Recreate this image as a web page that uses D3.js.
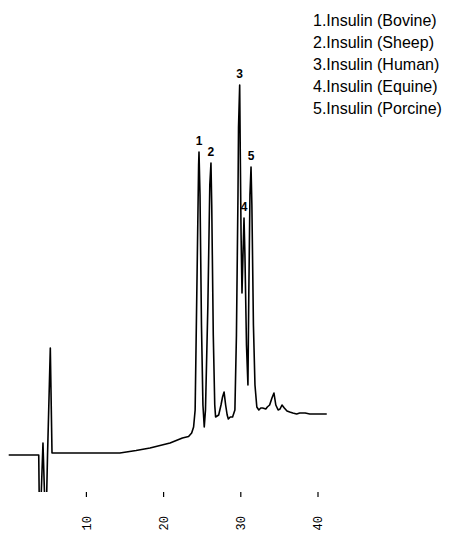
<!DOCTYPE html>
<html>
<head>
<meta charset="utf-8">
<script src="https://cdn.jsdelivr.net/npm/d3@7"></script>
<style>
  html, body { margin: 0; padding: 0; background: #fff; }
  svg { display: block; }
</style>
</head>
<body>
<svg id="chart" width="452" height="533"></svg>
<script>
// Retention time (min)
const times = [
  0, 3.89, 3.98, 4.12, 4.44, 4.72, 4.86, 5.03, 5.39, 5.61,
  14.4, 16.5, 18.3, 20.9, 22.5, 23.3, 23.7, 23.95,
  24.15, 24.4, 24.6, 24.65, 24.78, 24.97, 25.16, 25.33,
  25.49, 25.8, 26.05, 26.2, 26.3, 26.5, 26.69, 26.8,
  27.2, 27.5, 27.7, 27.9, 28.1, 28.3, 28.45, 28.7, 29.0, 29.3,
  29.5, 29.7, 29.77, 29.92, 30.0, 30.1, 30.22, 30.35, 30.48, 30.6,
  30.8, 30.99, 31.1, 31.25, 31.39, 31.5, 31.7, 31.9, 32.14,
  32.4, 32.65, 32.9, 33.3, 33.5, 33.8, 34.1, 34.36, 34.6, 34.9,
  35.15, 35.4, 35.7, 36.05, 36.4, 36.8, 37.3, 37.7, 38.4, 39.0, 40.3, 41.2
];
// Detector signal (arbitrary units)
const signal = [
  0, 0, -60, -60, 12, -60, -60, 0, 107, 2,
  2, 4.5, 7, 12, 17, 18.5, 22, 28,
  45, 180, 290, 303, 260, 130, 50, 28,
  45, 150, 270, 292, 250, 120, 50, 38,
  40, 50, 58, 63, 50, 40, 36, 38, 38, 45,
  120, 260, 328, 370, 300, 220, 162, 200, 237, 200,
  110, 70, 160, 260, 288, 250, 130, 70, 48,
  45, 47, 47, 46, 48, 50, 57, 62, 50, 45,
  46, 50, 47, 44, 43, 42, 41, 42, 42, 41, 41, 41
];
// Peak annotations
const peakLabels = ["1", "2", "3", "4", "5"];
const peakTimes = [24.65, 26.2, 29.92, 30.48, 31.39];
const peakValues = [303, 292, 370, 237, 288];
// Legend
const legendItems = [
  "1.Insulin (Bovine)",
  "2.Insulin (Sheep)",
  "3.Insulin (Human)",
  "4.Insulin (Equine)",
  "5.Insulin (Porcine)"
];
const tickValues = [10, 20, 30, 40];

const svg = d3.select("#chart");

const x = d3.scaleLinear().domain([0, 41.5]).range([8.7, 8.7 + 41.5 * 7.72]);
const y = d3.scaleLinear().domain([-37, 370]).range([492, 85]);

svg.append("defs").append("clipPath").attr("id", "plotclip")
  .append("rect").attr("x", 0).attr("y", 0).attr("width", 452).attr("height", y(-37));

const data = times.map((t, i) => ({ t, v: signal[i] }));
const line = d3.line().x(d => x(d.t)).y(d => y(d.v));

svg.append("path")
  .datum(data)
  .attr("clip-path", "url(#plotclip)")
  .attr("d", line)
  .attr("fill", "none")
  .attr("stroke", "#000")
  .attr("stroke-width", 1.6)
  .attr("stroke-linejoin", "round");

// Peak labels
svg.append("g").selectAll("text")
  .data(peakLabels)
  .join("text")
  .attr("x", (d, i) => x(peakTimes[i]))
  .attr("y", (d, i) => y(peakValues[i]) - 7)
  .attr("text-anchor", "middle")
  .attr("font-family", "Liberation Sans, Arial, sans-serif")
  .attr("font-weight", "bold")
  .attr("font-size", 12)
  .attr("fill", "#000")
  .text(d => d);

// Axis (ticks only)
const axis = d3.axisBottom(x).tickValues(tickValues).tickSize(5).tickSizeOuter(0);
const gAxis = svg.append("g").attr("transform", `translate(0,${y(-37)})`).call(axis);
gAxis.select(".domain").remove();
gAxis.selectAll(".tick line").attr("stroke", "#000").attr("stroke-width", 1.2);
gAxis.selectAll(".tick text")
  .attr("x", 0).attr("y", 0).attr("dy", "0.35em")
  .attr("text-anchor", "end")
  .attr("transform", "translate(0,24) rotate(-90)")
  .attr("font-family", "Liberation Mono, DejaVu Sans Mono, monospace")
  .attr("font-size", 12)
  .attr("fill", "#000");

// Legend
svg.append("g").selectAll("text")
  .data(legendItems)
  .join("text")
  .attr("x", 313)
  .attr("y", (d, i) => 26 + i * 22)
  .attr("font-family", "Liberation Sans, Arial, sans-serif")
  .attr("font-size", 16)
  .attr("fill", "#000")
  .text(d => d);
</script>
</body>
</html>
